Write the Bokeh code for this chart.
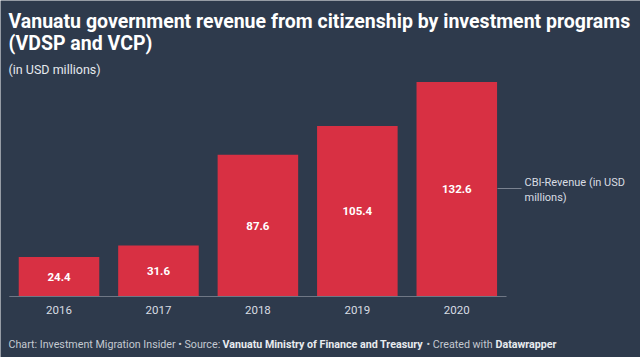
from bokeh.plotting import figure
from bokeh.models import ColumnDataSource, Label, Arrow, Range1d
from bokeh.core.properties import value
from bokeh.embed import file_html
from bokeh.resources import INLINE

years = ["2016", "2017", "2018", "2019", "2020"]
revenue = [24.4, 31.6, 87.6, 105.4, 132.6]
labels = ["24.4", "31.6", "87.6", "105.4", "132.6"]

title1 = "Vanuatu government revenue from citizenship by investment programs"
title2 = "(VDSP and VCP)"
subtitle = "(in USD millions)"
series_name = ["CBI-Revenue (in USD", "millions)"]
footer_parts = [("Chart: Investment Migration Insider \u2022 Source:", "normal"),
                ("Vanuatu Ministry of Finance and Treasury", "bold"),
                ("\u2022 Created with", "normal"),
                ("Datawrapper", "bold")]

BG = "#2e3a4c"
RED = "#d83043"
FONT = "Roboto"
W, H = 640, 357
STEP = 99.45          # px per category slot
PXU = 1.617           # px per USD million
BASE = 296            # baseline, px from top
FIRST = 58.5          # centre of first bar, px from left

idx = list(range(len(years)))
src = ColumnDataSource(dict(x=idx, rev=revenue, mid=[v / 2 for v in revenue], lab=labels,
                            year=years, zero=[0] * len(years)))

p = figure(width=W, height=H, output_backend="svg", toolbar_location=None,
           x_range=Range1d(-FIRST / STEP, (W - FIRST) / STEP),
           y_range=Range1d(-(H - BASE) / PXU, BASE / PXU),
           min_border=0)
p.background_fill_color = BG
p.border_fill_color = BG
p.outline_line_color = None
p.grid.visible = False
p.axis.visible = False

p.vbar(x="x", top="rev", bottom=0, width=0.81, source=src, fill_color=RED, line_color=None)
p.segment(x0=[-0.5], y0=[0], x1=[len(years) - 0.5], y1=[0], line_color="#6f7785", line_width=1)
p.text(x="x", y="mid", text="lab", source=src, text_align="center", text_baseline="middle",
       text_color="white", text_font=value(FONT), text_font_style="bold", text_font_size="11.5px")
p.text(x="x", y="zero", text="year", source=src, y_offset=13, text_align="center",
       text_baseline="middle", text_color="#d9dde3", text_font=value(FONT), text_font_size="11.5px")

def lab(text, x, y_top, size, color, style="normal", baseline="alphabetic"):
    p.add_layout(Label(x=x, y=H - y_top, x_units="screen", y_units="screen", text=text,
                       text_font=FONT, text_font_size=size, text_color=color,
                       text_font_style=style, text_baseline=baseline, text_align="left"))

lab(title1, 8, 21, "19.5px", "white", "bold")
lab(title2, 8, 43, "19.5px", "white", "bold")
lab(subtitle, 8, 69, "12.5px", "#e6e9ee")

lab(series_name[0], 524, 182, "11px", "#d9dde3", baseline="middle")
lab(series_name[1], 524, 197, "11px", "#d9dde3", baseline="middle")
p.add_layout(Arrow(end=None, x_start=497, y_start=H - 188, x_end=521, y_end=H - 188,
                   start_units="screen", end_units="screen", line_color="#7a8290", line_width=1))

fx = [8, 222, 426, 495]
for (t, st), x in zip(footer_parts, fx):
    lab(t, x, 344, "10.7px", "#c4c9d1" if st == "normal" else "#e8ebef", st, baseline="middle")

open("out.html", "w").write(file_html(p, INLINE))
